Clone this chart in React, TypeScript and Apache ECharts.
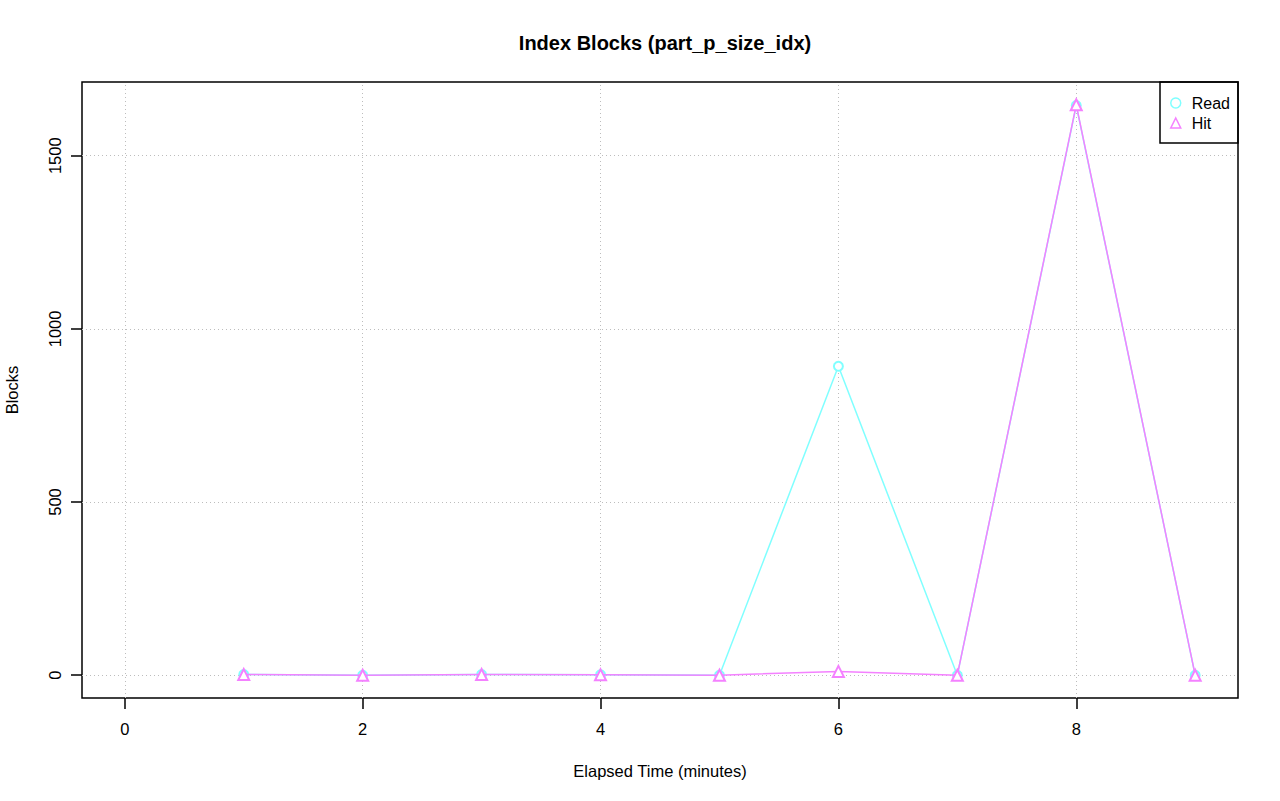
import React, { useEffect, useRef } from "react";
import * as echarts from "echarts";

const minutes = [1, 2, 3, 4, 5, 6, 7, 8, 9];
const readBlocks = [2, 0, 2, 1, 0, 892, 0, 1645, 0];
const hitBlocks = [2, 0, 2, 1, 0, 11, 0, 1647, 0];
const xTicks = [0, 2, 4, 6, 8];
const yTicks = [0, 500, 1000, 1500];

const FONT = "'Liberation Sans', Arial, Helvetica, sans-serif";
const READ_COLOR = "#80FFFF";
const HIT_COLOR = "#F481FF";

export default function App() {
  const ref = useRef<HTMLDivElement>(null);
  useEffect(() => {
    if (!ref.current) return;
    const chart = echarts.init(ref.current, null, { renderer: "svg" });
    const allVals = readBlocks.concat(hitBlocks);
    const dMin = Math.min(...allVals);
    const dMax = Math.max(...allVals);
    const yPad = (dMax - dMin) * 0.04;
    const xMin = Math.min(0, ...minutes);
    const xMax = Math.max(...minutes);
    const xPad = (xMax - xMin) * 0.04;

    const gridLineStyle = { color: "#bdbdbd", width: 1, type: [1, 3] as any };

    chart.setOption({
      animation: false,
      backgroundColor: "#ffffff",
      textStyle: { fontFamily: FONT },
      title: {
        text: "Index Blocks (part_p_size_idx)",
        left: 660,
        top: 28,
        textAlign: "center",
        textStyle: { fontFamily: FONT, fontSize: 20, fontWeight: "bold", color: "#000" },
      },
      grid: {
        left: 82,
        top: 82,
        width: 1156,
        height: 616,
        show: true,
        borderColor: "#000",
        borderWidth: 1.5,
        backgroundColor: "transparent",
        containLabel: false,
        outerBoundsMode: "none",
      },
      xAxis: {
        type: "value",
        min: xMin - xPad,
        max: xMax + xPad,
        name: "Elapsed Time (minutes)",
        nameLocation: "middle",
        nameGap: 64,
        nameTextStyle: { fontFamily: FONT, fontSize: 16.5, color: "#000" },
        axisLine: { show: false, onZero: false },
        axisTick: {
          show: true,
          customValues: xTicks,
          length: 11,
          inside: false,
          lineStyle: { color: "#000", width: 1.5 },
        },
        axisLabel: {
          customValues: xTicks,
          margin: 22,
          fontFamily: FONT,
          fontSize: 16.5,
          color: "#000",
          formatter: (v: number) => String(v),
        },
        splitLine: { show: false },
      },
      yAxis: {
        type: "value",
        min: dMin - yPad,
        max: dMax + yPad,
        name: "Blocks",
        nameLocation: "middle",
        nameGap: 62,
        nameRotate: 90,
        nameTextStyle: { fontFamily: FONT, fontSize: 16.5, color: "#000" },
        axisLine: { show: false, onZero: false },
        axisTick: {
          show: true,
          customValues: yTicks,
          length: 11,
          inside: false,
          lineStyle: { color: "#000", width: 1.5 },
        },
        axisLabel: {
          customValues: yTicks,
          rotate: 90,
          margin: 19,
          fontFamily: FONT,
          fontSize: 16.5,
          color: "#000",
          verticalAlign: "bottom",
          align: "center",
          formatter: (v: number) => String(v),
        },
        splitLine: { show: false },
      },
      legend: {
        orient: "vertical",
        left: 1170,
        top: 95,
        itemGap: 4,
        itemWidth: 10,
        itemHeight: 10,
        padding: 0,
        textStyle: { fontFamily: FONT, fontSize: 16, color: "#000", padding: [0, 0, 0, 6] },
        data: [
          {
            name: "Read",
            icon: "circle",
            itemStyle: { color: "transparent", borderColor: READ_COLOR, borderWidth: 1.5 },
          },
          {
            name: "Hit",
            icon: "triangle",
            itemStyle: { color: "transparent", borderColor: HIT_COLOR, borderWidth: 1.5 },
          },
        ],
      },
      graphic: [
        {
          type: "rect",
          shape: { x: 1160, y: 82, width: 78, height: 61 },
          style: { fill: "transparent", stroke: "#000", lineWidth: 1.5 },
          silent: true,
          z: 10,
        },
      ],
      series: [
        {
          name: "Read",
          type: "line",
          data: minutes.map((m, i) => [m, readBlocks[i]]),
          symbol: "emptyCircle",
          symbolSize: 9,
          showAllSymbol: true,
          lineStyle: { color: READ_COLOR, width: 1.5 },
          itemStyle: { color: READ_COLOR, borderColor: READ_COLOR, borderWidth: 1.5 },
          z: 3,
          markLine: {
            silent: true,
            symbol: "none",
            label: { show: false },
            lineStyle: gridLineStyle,
            data: [
              ...xTicks.map((v) => ({ xAxis: v })),
              ...yTicks.map((v) => ({ yAxis: v })),
            ],
            z: 1,
          },
        },
        {
          name: "Hit",
          type: "line",
          data: minutes.map((m, i) => [m, hitBlocks[i]]),
          symbol: "emptyTriangle",
          symbolSize: 11,
          showAllSymbol: true,
          lineStyle: { color: HIT_COLOR, width: 1.5 },
          itemStyle: { color: HIT_COLOR, borderColor: HIT_COLOR, borderWidth: 1.5 },
          z: 4,
        },
      ],
    });
    return () => chart.dispose();
  }, []);

  return <div ref={ref} style={{ width: 1280, height: 801, position: "absolute", left: 0, top: 0 }} />;
}
